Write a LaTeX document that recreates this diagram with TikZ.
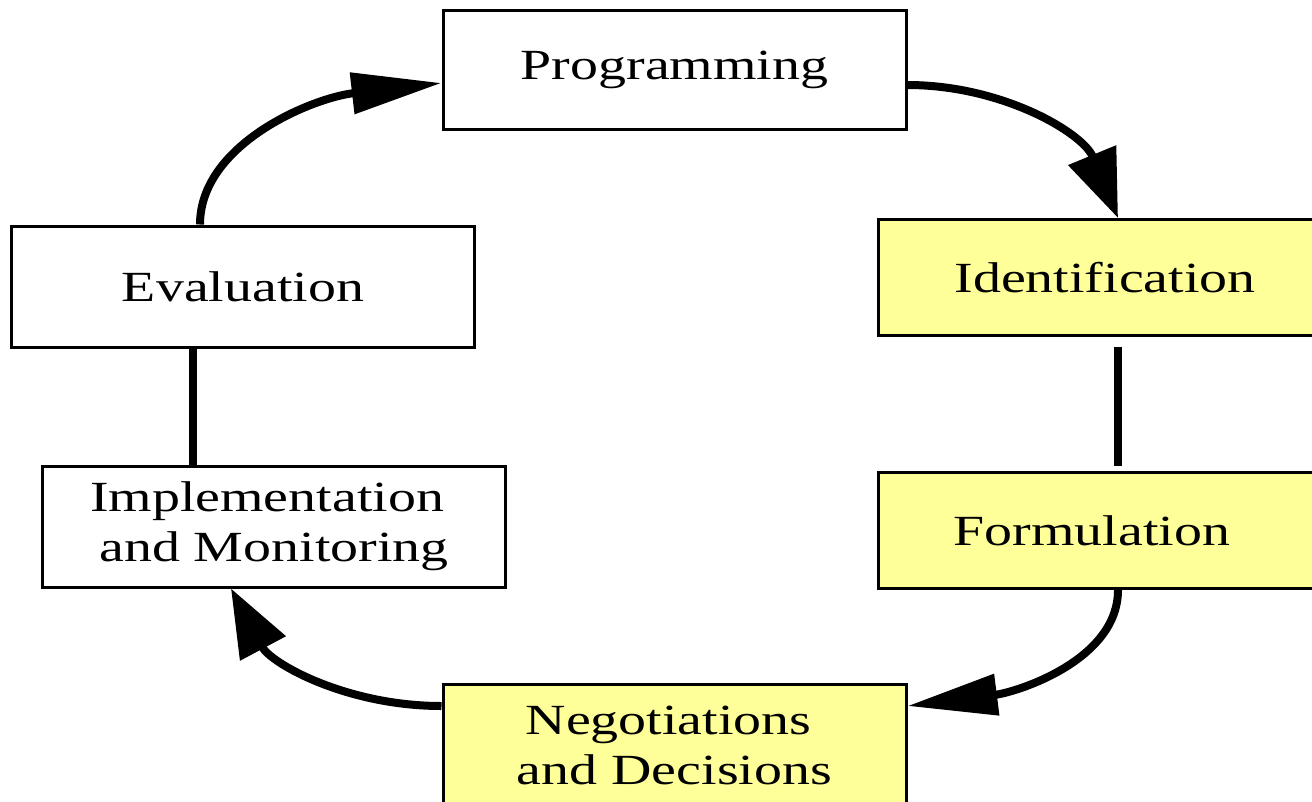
\documentclass[tikz,border=0pt]{standalone}
\usepackage{fontspec}
\newfontfamily\lblfont{Liberation Serif}[FakeStretch=1.3]
\usetikzlibrary{arrows.meta}
\definecolor{paleyellow}{RGB}{255,255,153}
\tikzset{
  stage/.style={draw=black, line width=3pt, fill=white, inner sep=0pt,
    minimum width=463pt, minimum height=119pt, align=center,
    font=\lblfont\fontsize{43}{50}\selectfont},
  hot/.style={stage, fill=paleyellow, minimum width=454pt, minimum height=116pt},
  flow/.style={line width=8pt},
  tipflat/.style={-{Triangle[length=90pt,width=40pt]}},
  tipsteep/.style={-{Triangle[length=68pt,width=50pt]}}
}
\begin{document}
\begin{tikzpicture}[x=1pt,y=-1pt]
  \useasboundingbox (0,0) rectangle (1312,801);
  \clip (0,0) rectangle (1312,801);
  % stages of the cycle
  \node[stage] (prog) at (674.5,69.5) {Programming};
  \node[hot]   (ident) at (1105,277.5) {Identification};
  \node[hot]   (form) at (1105,530.5) {Formulation\kern26pt};
  \node[hot, minimum width=463pt, minimum height=122pt] (nego) at (674.5,745) {Negotiations\kern12pt\\and Decisions};
  \node[stage, minimum height=121pt] (impl) at (274,526.5) {Implementation\kern14pt\\and Monitoring};
  \node[stage, minimum height=121pt] (eval) at (243,286.5) {Evaluation};
  % connectors
  \draw[flow, tipsteep] ([yshift=-15.5pt]prog.east)
    .. controls +(95,0) and +(-35,-85) .. ([xshift=13pt]ident.north);
  \draw[flow, shorten <=10pt, shorten >=5pt] ([xshift=13pt]ident.south) -- ([xshift=13pt]form.north);
  \draw[flow, tipflat] ([xshift=13pt]form.south)
    .. controls +(0,70) and +(110,-14) .. ([yshift=39pt]nego.east);
  \draw[flow, tipsteep] ([yshift=39pt]nego.west)
    .. controls +(-95,0) and +(40,75) .. ([xshift=-43pt]impl.south);
  \draw[flow] ([xshift=-81pt]impl.north) -- ([xshift=-50pt]eval.south);
  \draw[flow, tipflat] ([xshift=-43pt]eval.north)
    .. controls +(0,-80) and +(-130,15) .. ([yshift=-13.5pt]prog.west);
\end{tikzpicture}
\end{document}
